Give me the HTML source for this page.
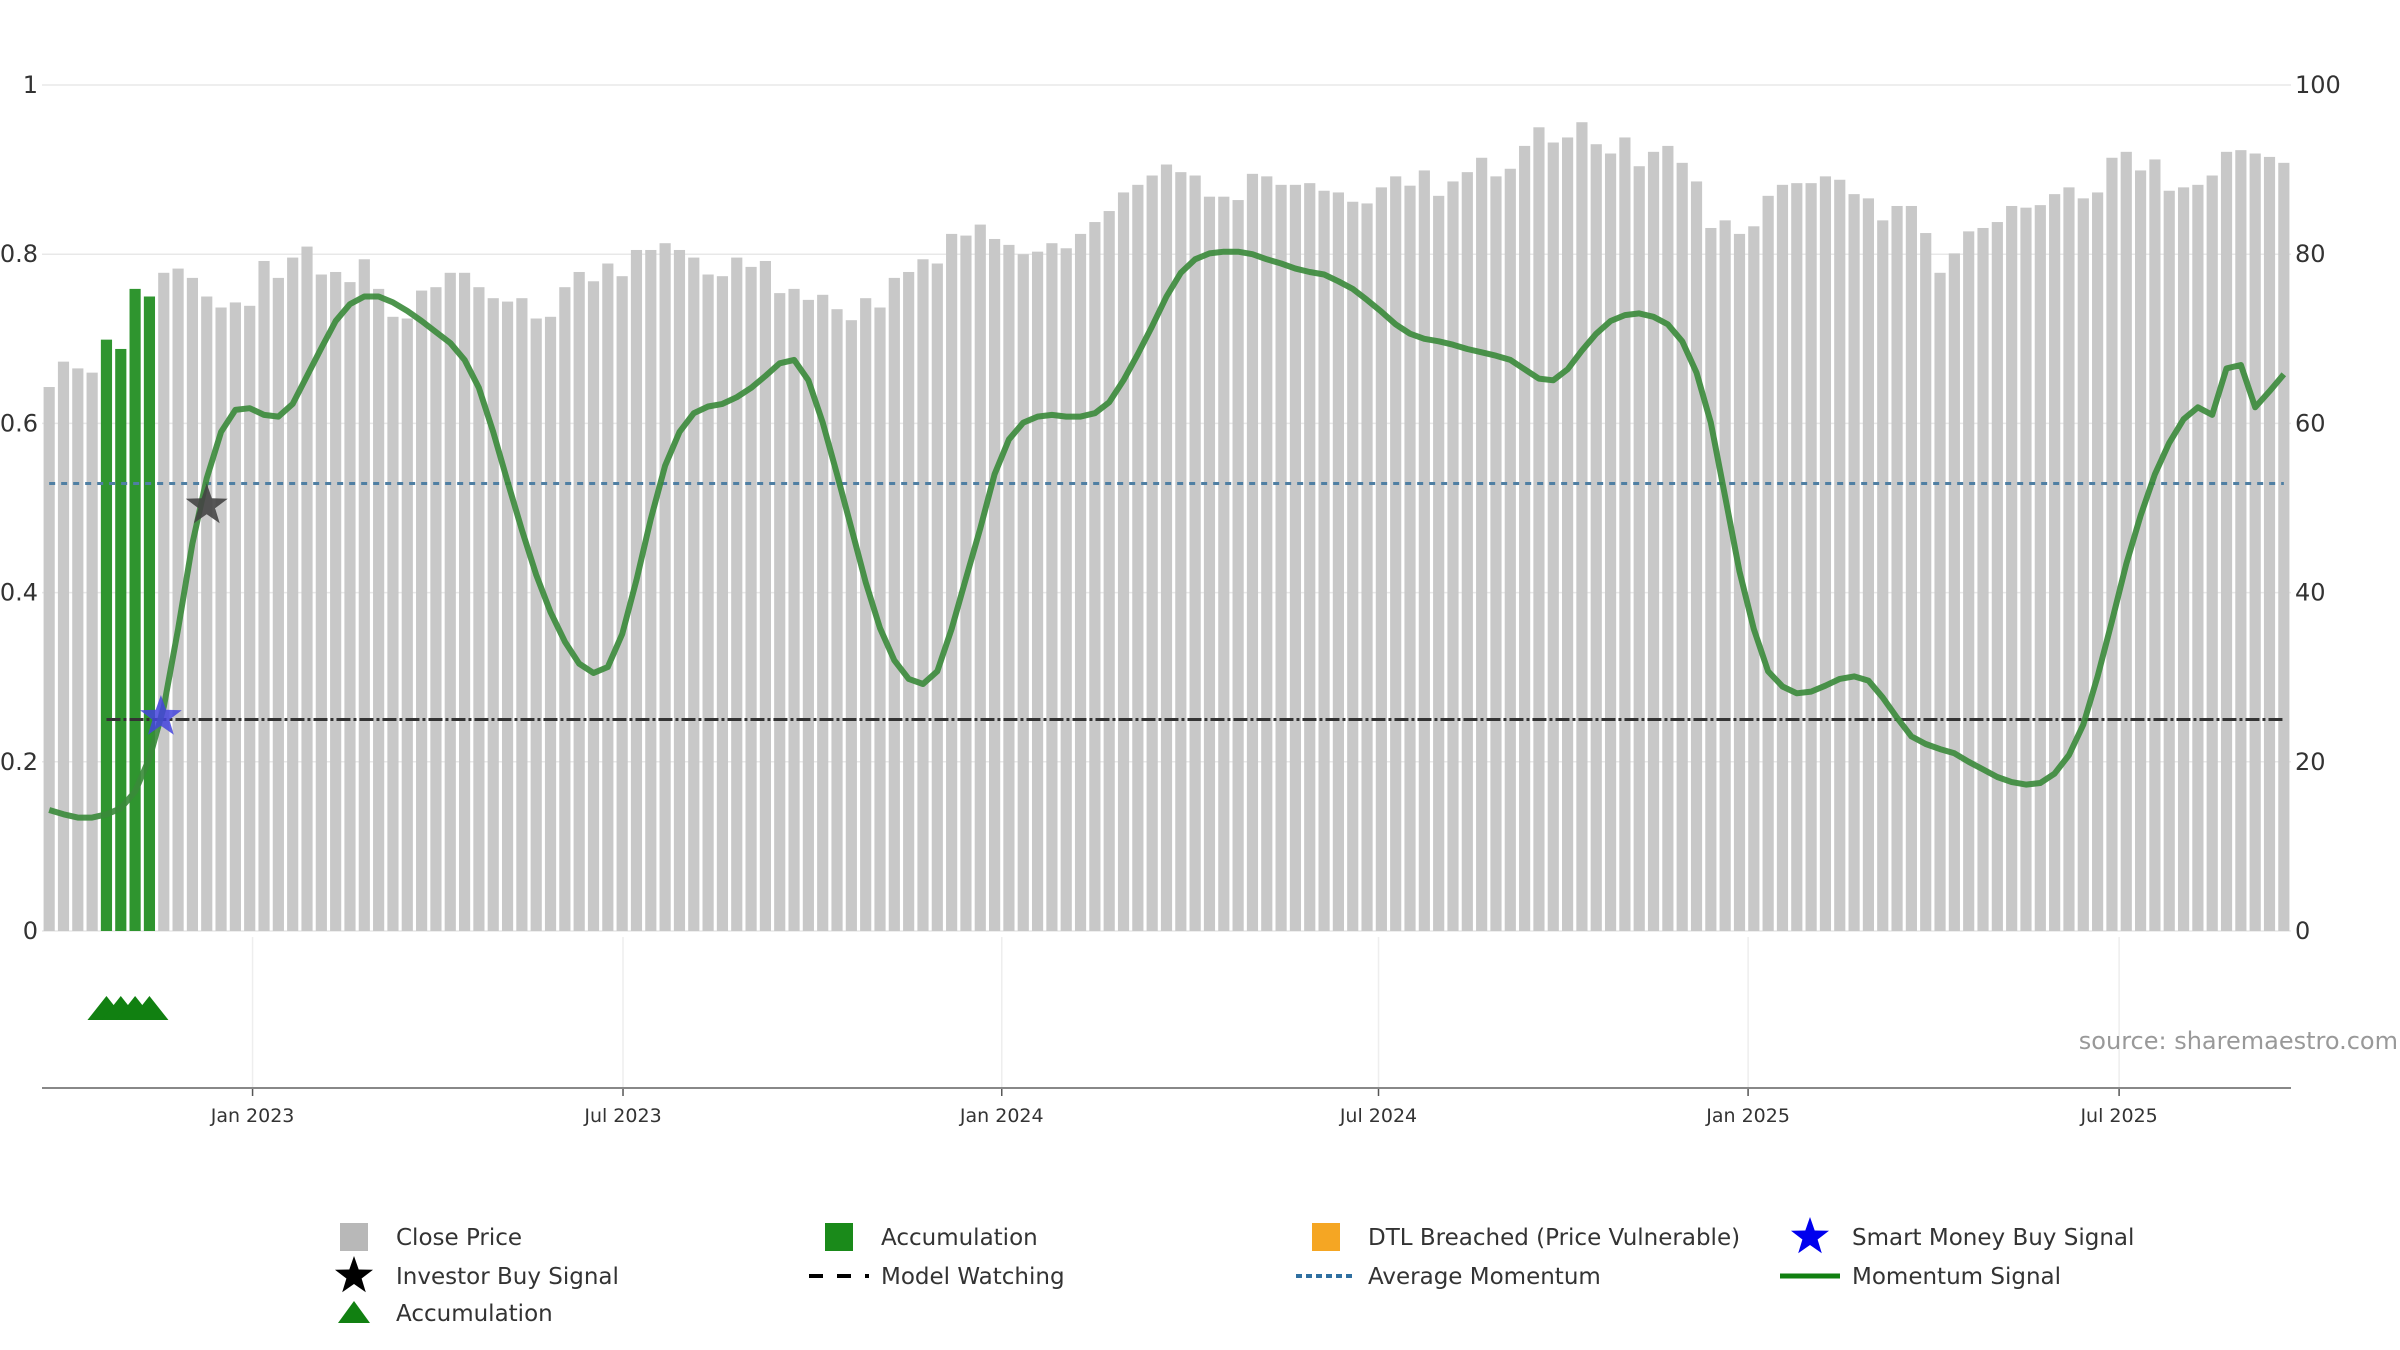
<!DOCTYPE html>
<html><head><meta charset="utf-8"><style>
html,body{margin:0;padding:0;background:#fff;}
svg{display:block;font-family:"DejaVu Sans","Liberation Sans",sans-serif;}
</style></head><body>
<svg id="chart" width="2400" height="1350" viewBox="0 0 2400 1350">
<g id="grid"></g>
<g id="bars"></g>
<g id="lines"></g>
<g id="axes"></g>
<g id="legend"></g>
</svg>
<script>
const closePrices=[64.3,67.3,66.5,66,69.9,68.8,75.9,75,77.8,78.3,77.2,75,73.7,74.3,73.9,79.2,77.2,79.6,80.9,77.6,77.9,76.7,79.4,75.9,72.6,72.4,75.7,76.1,77.8,77.8,76.1,74.8,74.4,74.8,72.4,72.6,76.1,77.9,76.8,78.9,77.4,80.5,80.5,81.3,80.5,79.6,77.6,77.4,79.6,78.5,79.2,75.4,75.9,74.6,75.2,73.5,72.2,74.8,73.7,77.2,77.9,79.4,78.9,82.4,82.2,83.5,81.8,81.1,80,80.3,81.3,80.7,82.4,83.8,85.1,87.3,88.2,89.3,90.6,89.7,89.3,86.8,86.8,86.4,89.5,89.2,88.2,88.2,88.4,87.5,87.3,86.2,86,87.9,89.2,88.1,89.9,86.9,88.6,89.7,91.4,89.2,90.1,92.8,95,93.2,93.8,95.6,93,91.9,93.8,90.4,92.1,92.8,90.8,88.6,83.1,84,82.4,83.3,86.9,88.2,88.4,88.4,89.2,88.8,87.1,86.6,84,85.7,85.7,82.5,77.8,80.1,82.7,83.1,83.8,85.7,85.5,85.8,87.1,87.9,86.6,87.3,91.4,92.1,89.9,91.2,87.5,87.9,88.2,89.3,92.1,92.3,91.9,91.5,90.8];
const momentum=[.143,.138,.134,.134,.138,.145,.165,.204,.265,.357,.458,.535,.590,.616,.618,.610,.608,.623,.656,.689,.721,.741,.750,.750,.743,.733,.721,.708,.695,.675,.642,.590,.531,.474,.421,.377,.342,.316,.305,.312,.351,.415,.487,.550,.590,.612,.620,.623,.631,.642,.656,.671,.675,.651,.601,.540,.476,.412,.358,.320,.298,.292,.307,.357,.417,.476,.540,.581,.601,.608,.610,.608,.608,.612,.625,.651,.682,.715,.750,.778,.794,.801,.803,.803,.800,.794,.789,.783,.779,.776,.768,.759,.746,.732,.717,.706,.700,.697,.693,.688,.684,.680,.675,.664,.653,.651,.664,.686,.706,.721,.728,.730,.726,.717,.697,.660,.601,.513,.425,.357,.307,.289,.281,.283,.290,.298,.301,.296,.276,.252,.230,.221,.215,.210,.200,.191,.182,.176,.173,.175,.186,.208,.244,.301,.366,.434,.491,.540,.577,.605,.619,.610,.665,.669,.619,.638,.658];
const accumulationWeeks=[4,5,6,7];
const avgMomentum=[0.529];
const modelWatching=[0.25];
const modelStartWeek=[4];
const investorBuy=[[11,0.503]];
const smartMoneyBuy=[[7.8,0.253]];
const leftTicks=[0,0.2,0.4,0.6,0.8,1];
const leftTickLabels=["0","0.2","0.4","0.6","0.8","1"];
const rightTicks=[0,20,40,60,80,100];
const tickWeeks=[14.2,40.06,66.5,92.8,118.6,144.5];
const tickLabels=["Jan 2023","Jul 2023","Jan 2024","Jul 2024","Jan 2025","Jul 2025"];

const NS="http://www.w3.org/2000/svg";
const L=42,R=2291,Y1=85,Y0=931,LOWB=1088;
const N=closePrices.length;
const step=(R-L)/N;
function xw(w){return L+(w+0.5)*step;}
function yL(v){return Y0-(Y0-Y1)*v;}
function yR(v){return Y0-(Y0-Y1)*v/100;}
function mk(tag,attrs,parent){const e=document.createElementNS(NS,tag);for(const k in attrs)e.setAttribute(k,attrs[k]);parent.appendChild(e);return e;}
const grid=document.getElementById('grid'),bars=document.getElementById('bars'),lines=document.getElementById('lines'),axes=document.getElementById('axes'),legend=document.getElementById('legend');

leftTicks.forEach((t,i)=>{
  const g=mk('line',{x1:L,x2:R,y1:yL(t),y2:yL(t),stroke:'#e8e8e8','stroke-width':1.5},grid);
  
  
  const tl=mk('text',{x:38,y:yL(t)+8,'text-anchor':'end','font-size':24,fill:'#333'},axes);
  tl.textContent=leftTickLabels[i];
  
  
});
rightTicks.forEach(t=>{
  const tr=mk('text',{x:2295,y:yR(t)+8,'font-size':24,fill:'#333'},axes);
  tr.textContent=String(t);
  
  
});
tickWeeks.forEach((w,i)=>{
  const x=xw(w);
  const v=mk('line',{x1:x,x2:x,y1:937,y2:LOWB,stroke:'#eee','stroke-width':1.5},grid);
  
  
  const tk=mk('line',{x1:x,x2:x,y1:LOWB,y2:LOWB+8,stroke:'#555','stroke-width':1.5},axes);
  
  
  const t=mk('text',{x:x,y:1122,'text-anchor':'middle','font-size':19,fill:'#333'},axes);
  t.textContent=tickLabels[i];
  
  
});
const ax=mk('line',{x1:L,x2:R,y1:LOWB,y2:LOWB,stroke:'#888','stroke-width':2},axes);



const bw=step*0.78;
closePrices.forEach((v,i)=>{
  const acc=accumulationWeeks.includes(i);
  const b=mk('rect',{x:xw(i)-bw/2,y:yR(v),width:bw,height:Y0-yR(v),fill:acc?'#2f952f':'#c8c8c8'},bars);
  
  
});

const avg=mk('line',{x1:xw(0),x2:xw(N-1),y1:yL(avgMomentum[0]),y2:yL(avgMomentum[0]),stroke:'#4f7fa3','stroke-width':3,'stroke-dasharray':'6,6'},lines);


const mw=mk('line',{x1:xw(modelStartWeek[0]),x2:xw(N-1),y1:yL(modelWatching[0]),y2:yL(modelWatching[0]),stroke:'#333','stroke-width':3,'stroke-dasharray':'14,3,3,3'},lines);



const pts=momentum.map((v,i)=>xw(i).toFixed(1)+','+yL(v).toFixed(1)).join(' ');
const ml=mk('polyline',{points:pts,fill:'none',stroke:'#3a8a3a','stroke-opacity':0.9,'stroke-width':6,'stroke-linejoin':'round'},lines);



function starPath(cx,cy,r){let d='';for(let k=0;k<10;k++){const a=-Math.PI/2+k*Math.PI/5;const rr=k%2?r*0.4:r;d+=(k?'L':'M')+(cx+rr*Math.cos(a)).toFixed(1)+','+(cy+rr*Math.sin(a)).toFixed(1);}return d+'Z';}
investorBuy.forEach(p=>{
  const s=mk('path',{d:starPath(xw(p[0]),yL(p[1]),22),fill:'#444','fill-opacity':0.9},lines);
  
  
});
smartMoneyBuy.forEach(p=>{
  const s=mk('path',{d:starPath(xw(p[0]),yL(p[1]),22),fill:'#4444dd','fill-opacity':0.85},lines);
  
  
});
accumulationWeeks.forEach(w=>{
  const x=xw(w),y=1008;
  const t=mk('path',{d:`M${x-19},${y+12}L${x},${y-12}L${x+19},${y+12}Z`,fill:'#118011'},lines);
  
  
});
const src=mk('text',{x:2398,y:1049,'text-anchor':'end','font-size':24,fill:'#999'},axes);
src.textContent='source: sharemaestro.com';



const legendItems=[
 ['Close Price','sq','#b8b8b8',354,1237],
 ['Accumulation','sq','#1a8a1a',839,1237],
 ['DTL Breached (Price Vulnerable)','sq','#f5a623',1326,1237],
 ['Smart Money Buy Signal','star','#0000ee',1810,1237],
 ['Investor Buy Signal','star','#000',354,1276],
 ['Model Watching','dash','#000',839,1276],
 ['Average Momentum','dot','#2f6fa0',1326,1276],
 ['Momentum Signal','line','#118011',1810,1276],
 ['Accumulation','tri','#118011',354,1313]
];
legendItems.forEach(it=>{
  const [label,kind,col,x,y]=it;
  const g=mk('g',{},legend);
  
  
  if(kind==='sq') mk('rect',{x:x-14,y:y-14,width:28,height:28,fill:col},g);
  else if(kind==='star') mk('path',{d:starPath(x,y,20),fill:col},g);
  else if(kind==='tri') mk('path',{d:`M${x-16},${y+10}L${x},${y-12}L${x+16},${y+10}Z`,fill:col},g);
  else if(kind==='dash') mk('line',{x1:x-30,x2:x+30,y1:y,y2:y,stroke:col,'stroke-width':4,'stroke-dasharray':'14,14'},g);
  else if(kind==='dot') mk('line',{x1:x-30,x2:x+30,y1:y,y2:y,stroke:col,'stroke-width':4,'stroke-dasharray':'6,4'},g);
  else mk('line',{x1:x-30,x2:x+30,y1:y,y2:y,stroke:col,'stroke-width':5},g);
  const t=mk('text',{x:x+42,y:y+8,'font-size':23,fill:'#333'},g);
  t.textContent=label;
});
</script>
</body></html>
